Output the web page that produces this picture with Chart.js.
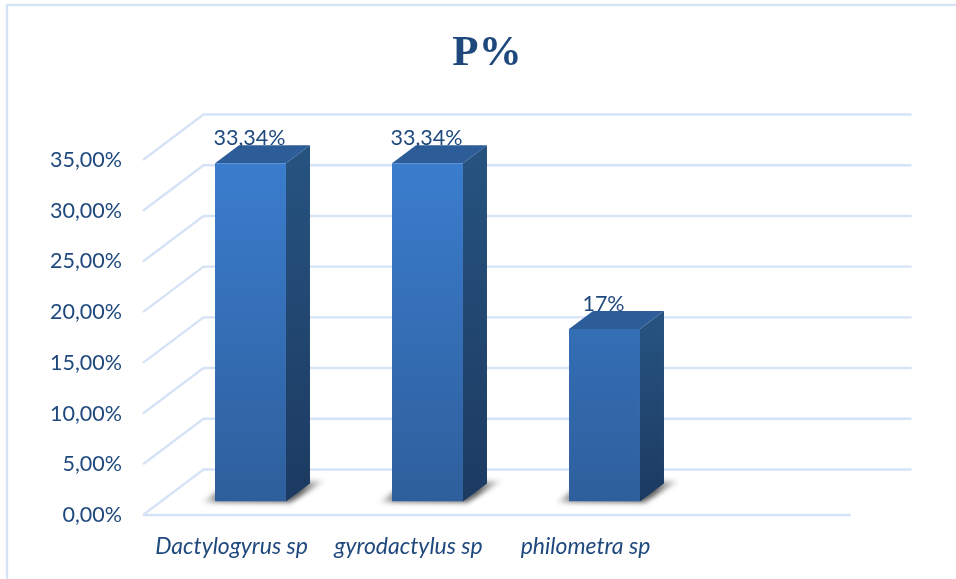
<!DOCTYPE html>
<html>
<head>
<meta charset="utf-8">
<style>html,body{margin:0;padding:0;background:#fff}canvas{display:block}</style>
<script src="https://cdn.jsdelivr.net/npm/chart.js@4"></script>
</head>
<body>
<canvas id="c" width="956" height="579"></canvas>
<script>
const categories = ['Dactylogyrus sp', 'gyrodactylus sp', 'philometra sp', ''];
const values = [33.34, 33.34, 17, null];
const valueLabels = ['33,34%', '33,34%', '17%', ''];
const yTickLabels = ['0,00%', '5,00%', '10,00%', '15,00%', '20,00%', '25,00%', '30,00%', '35,00%'];

const INK = '#1f497d', GRID = '#d6e3f6';
const PLANE = {dx: 19, dy: -13.5}; // bar plane inside the floor
const WALL = {dx: 60.5, dy: -45.5};  // back wall
const DEPTH = {dx: 24, dy: -18};   // bar depth

const depthPlugin = {
  id: 'depth',
  afterLayout(chart) { chart.titleBlock.left = 18; chart.titleBlock.right = 956; },
  beforeDatasetsDraw(chart) {
    const {ctx, scales: {x, y}} = chart;
    ctx.save();
    ctx.strokeStyle = GRID; ctx.lineWidth = 2.4;
    ctx.strokeRect(7, 5, 1100, 1000);
    y.ticks.forEach(t => {
      const py = y.getPixelForValue(t.value);
      ctx.beginPath();
      ctx.moveTo(x.left, py);
      ctx.lineTo(x.left + WALL.dx, py + WALL.dy);
      ctx.lineTo(x.right + WALL.dx, py + WALL.dy);
      ctx.stroke();
    });
    const p0 = y.getPixelForValue(0);
    ctx.beginPath(); ctx.moveTo(x.left, p0); ctx.lineTo(x.right, p0); ctx.stroke();

    const bars = chart.getDatasetMeta(0).data;
    ctx.translate(PLANE.dx, PLANE.dy);
    bars.forEach((b, i) => {
      if (values[i] == null) return;
      const l = b.x - b.width / 2, r = b.x + b.width / 2, t = b.y, bt = b.base;
      ctx.save();
      ctx.filter = 'blur(2.5px)';
      const g = ctx.createLinearGradient(l - 16, 0, r + 42, 0);
      g.addColorStop(0, 'rgba(90,90,90,0)');
      g.addColorStop(0.14, 'rgba(60,60,60,0.6)');
      g.addColorStop(0.78, 'rgba(50,50,50,0.8)');
      g.addColorStop(1, 'rgba(90,90,90,0)');
      ctx.fillStyle = g;
      ctx.beginPath();
      ctx.moveTo(l - 13, bt + 1);
      ctx.lineTo(l + 10, bt - 16);
      ctx.lineTo(r + 40, bt - 21);
      ctx.lineTo(r + 4, bt + 1);
      ctx.closePath(); ctx.fill();
      ctx.restore();

      const side = ctx.createLinearGradient(0, t, 0, bt);
      side.addColorStop(0, '#26527f');
      side.addColorStop(1, '#1c3a61');
      ctx.fillStyle = side;
      ctx.beginPath();
      ctx.moveTo(r, t); ctx.lineTo(r + DEPTH.dx, t + DEPTH.dy);
      ctx.lineTo(r + DEPTH.dx, bt + DEPTH.dy); ctx.lineTo(r, bt);
      ctx.closePath(); ctx.fill();

      ctx.fillStyle = '#2c5d98';
      ctx.beginPath();
      ctx.moveTo(l, t); ctx.lineTo(l + DEPTH.dx, t + DEPTH.dy);
      ctx.lineTo(r + DEPTH.dx, t + DEPTH.dy); ctx.lineTo(r, t);
      ctx.closePath(); ctx.fill();
    });
    ctx.restore();
    ctx.save();
    ctx.translate(PLANE.dx, PLANE.dy);
  },
  afterDatasetsDraw(chart) {
    const {ctx} = chart;
    ctx.restore();
    ctx.save();
    ctx.translate(PLANE.dx, PLANE.dy);
    ctx.fillStyle = INK;
    ctx.font = '21.5px Lato';
    ctx.textAlign = 'center';
    ctx.textBaseline = 'alphabetic';
    chart.getDatasetMeta(0).data.forEach((b, i) => {
      if (values[i] == null) return;
      ctx.fillText(valueLabels[i], b.x - 1, b.y - 18);
    });
    ctx.restore();
  }
};

new Chart(document.getElementById('c'), {
  type: 'bar',
  data: {
    labels: categories,
    datasets: [{
      data: values,
      barPercentage: 0.401,
      categoryPercentage: 1,
      borderWidth: 0,
      backgroundColor(c) {
        const a = c.chart.chartArea;
        if (!a) return '#3a7bcb';
        const g = c.chart.ctx.createLinearGradient(0, a.top, 0, a.bottom);
        g.addColorStop(0, '#3b7ed0');
        g.addColorStop(1, '#2e5f9c');
        return g;
      }
    }]
  },
  options: {
    responsive: false,
    animation: false,
    layout: {padding: {left: 0, right: 105, top: 0, bottom: 0}},
    plugins: {
      legend: {display: false},
      tooltip: {enabled: false},
      title: {
        display: true, text: 'P%', color: INK,
        font: {family: 'Liberation Serif', size: 43, weight: 'bold', lineHeight: 1.2},
        padding: {top: 28, bottom: 80.4}
      }
    },
    scales: {
      x: {
        grid: {display: false},
        border: {display: false},
        afterFit(s) { s.height = 64; },
        ticks: {color: INK, padding: 10, maxRotation: 0, autoSkip: false,
                font: {family: 'Lato', size: 23, style: 'italic'}}
      },
      y: {
        min: 0, max: 35,
        grid: {display: false},
        border: {display: false},
        afterFit(s) { s.width = 143; },
        ticks: {stepSize: 5, color: INK, padding: 13,
                font: {family: 'Lato', size: 21.5},
                callback(v, i) { return yTickLabels[i]; }}
      }
    }
  },
  plugins: [depthPlugin]
});
</script>
</body>
</html>
